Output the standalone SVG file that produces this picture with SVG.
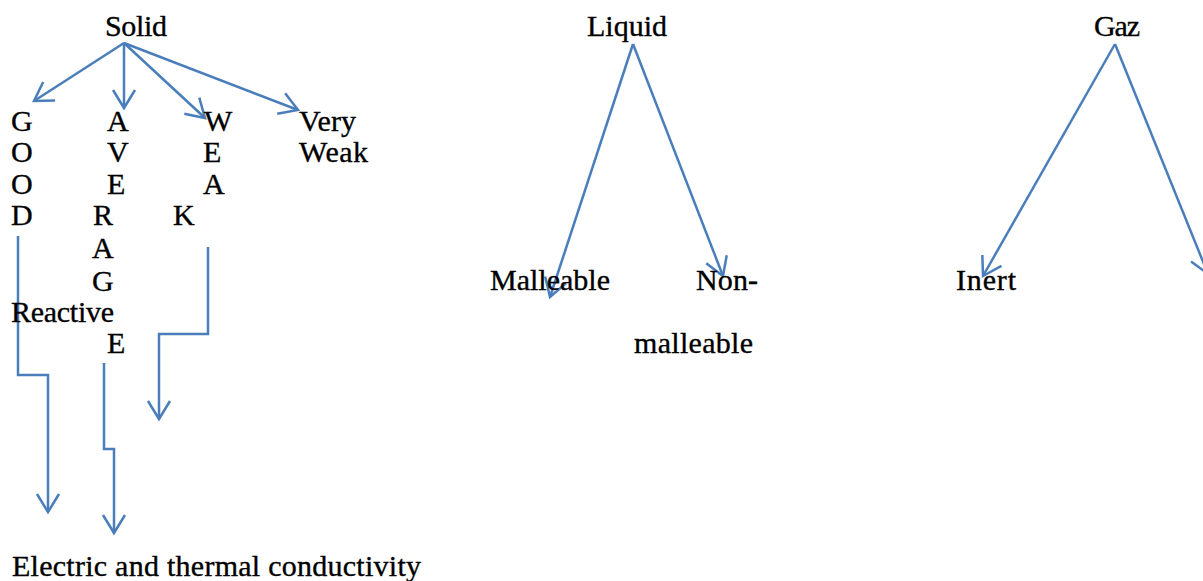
<svg xmlns="http://www.w3.org/2000/svg" width="1203" height="581" viewBox="0 0 1203 581">
<style>
text{font-family:"Liberation Serif","Times New Roman",serif;font-size:30px;fill:#000;stroke:#000;stroke-width:0.35}
.c{fill:none;stroke:#4A7EBB;stroke-width:2.5}
</style>
<defs>
<marker id="ah" markerUnits="userSpaceOnUse" markerWidth="24" markerHeight="26" viewBox="0 0 24 26" refX="20" refY="13" orient="auto">
<path d="M2,2 L20,13 L2,24" fill="none" stroke="#4A7EBB" stroke-width="2.5"/>
</marker>
</defs>
<rect width="1203" height="581" fill="#fff"/>
<g id="connectors">
<line class="c" x1="124" y1="43" x2="34" y2="101" marker-end="url(#ah)"/>
<line class="c" x1="124" y1="43" x2="124" y2="108" marker-end="url(#ah)"/>
<line class="c" x1="124" y1="43" x2="205" y2="118" marker-end="url(#ah)"/>
<line class="c" x1="124" y1="43" x2="298" y2="110" marker-end="url(#ah)"/>
<line class="c" x1="633" y1="44" x2="550" y2="297" marker-end="url(#ah)"/>
<line class="c" x1="633" y1="44" x2="723" y2="276" marker-end="url(#ah)"/>
<line class="c" x1="1115" y1="44" x2="983" y2="276" marker-end="url(#ah)"/>
<line class="c" x1="1115" y1="44" x2="1208" y2="274" marker-end="url(#ah)"/>
<polyline class="c" points="18,236 18,375 48,375 48,512" marker-end="url(#ah)"/>
<polyline class="c" points="104,363 104,449 114,449 114,533" marker-end="url(#ah)"/>
<polyline class="c" points="208,247 208,334 159,334 159,419" marker-end="url(#ah)"/>
</g>
<g id="solid"><text x="105" y="36" textLength="62">Solid</text></g>
<g id="liquid"><text x="587" y="36" textLength="80">Liquid</text></g>
<g id="gaz"><text x="1094" y="36" textLength="46">Gaz</text></g>
<g id="good">
<text x="11" y="131">G</text>
<text x="11" y="162">O</text>
<text x="11" y="194">O</text>
<text x="11" y="225">D</text>
</g>
<g id="average">
<text x="107" y="131">A</text>
<text x="107" y="162">V</text>
<text x="107" y="194">E</text>
<text x="93" y="225">R</text>
<text x="92" y="258">A</text>
<text x="92" y="291">G</text>
<text x="107" y="353">E</text>
</g>
<g id="reactive"><text x="11" y="322" textLength="103">Reactive</text></g>
<g id="weak">
<text x="204" y="131">W</text>
<text x="203" y="162">E</text>
<text x="203" y="194">A</text>
<text x="173" y="225">K</text>
</g>
<g id="veryweak">
<text x="299" y="131" textLength="57">Very</text>
<text x="299" y="162" textLength="69">Weak</text>
</g>
<g id="malleable"><text x="490" y="290" textLength="120">Malleable</text></g>
<g id="nonmalleable">
<text x="696" y="290" textLength="62">Non-</text>
<text x="634" y="353" textLength="119">malleable</text>
</g>
<g id="inert"><text x="956" y="290" textLength="60">Inert</text></g>
<g id="conductivity"><text x="12" y="576" textLength="409">Electric and thermal conductivity</text></g>
</svg>
